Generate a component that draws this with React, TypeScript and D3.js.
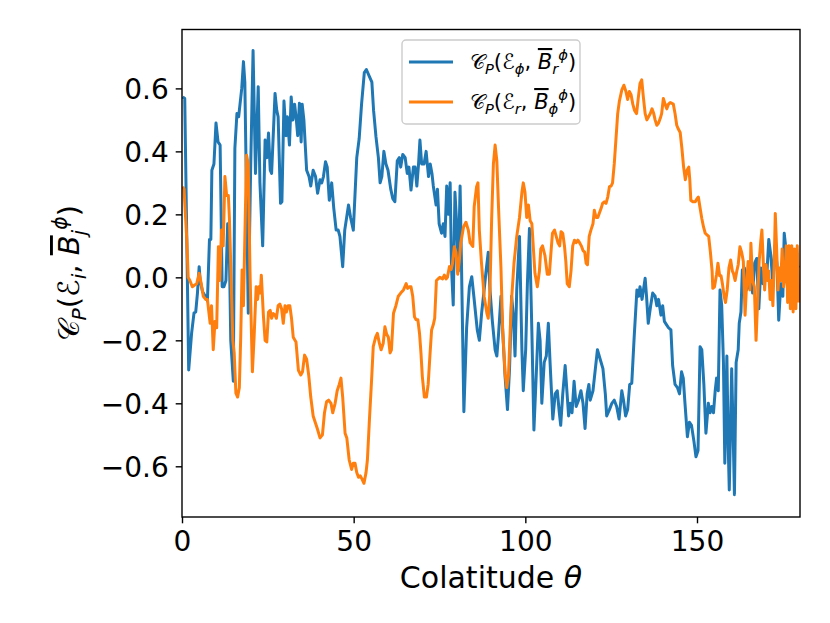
import * as d3 from "d3";
import { useLayoutEffect, useRef } from "react";

const W = 830;
const H = 623;
const box = { left: 182, right: 800, top: 29.5, bottom: 517 };

const xDomain = [0, 180];
const yDomain = [-0.761, 0.787];
const xTicks = [0, 50, 100, 150];
const yTicks = [-0.6, -0.4, -0.2, 0, 0.2, 0.4, 0.6];

// [theta, C_P(E_phi, B_r)]
const blueSeries: [number, number][] = [
  [0.2,0.573],[0.8,0.568],[1.95,-0.294],[2.8,-0.177],[3.5,-0.113],[4.0,-0.11],[4.5,-0.05],[5.0,0.034],[5.3,-0.01],[6.0,-0.046],
  [6.8,-0.06],[7.4,-0.075],[8.0,0.12],[8.4,0.12],[8.7,0.34],[9.3,0.36],[9.9,0.49],[10.5,0.43],[11.1,0.42],[11.7,-0.03],
  [12.2,-0.03],[12.8,-0.01],[13.3,0.17],[13.8,0.077],[14.2,-0.2],[14.95,-0.33],[15.4,0.41],[16.0,0.52],[16.5,0.51],[16.9,0.55],
  [17.4,0.6],[17.9,0.685],[18.3,0.62],[19.3,-0.114],[20.0,0.35],[20.7,0.72],[21.4,0.33],[22.2,0.605],[22.7,0.3],[23.5,0.1],
  [24.2,0.436],[24.7,0.38],[25.2,0.458],[25.7,0.34],[26.1,0.33],[27.1,0.584],[27.6,0.53],[28.0,0.51],[28.7,0.235],[29.1,0.24],
  [29.7,0.56],[30.3,0.45],[30.7,0.51],[31.3,0.42],[31.8,0.573],[32.3,0.5],[32.8,0.55],[33.3,0.5],[33.7,0.45],[34.2,0.553],
  [34.7,0.43],[35.0,0.55],[35.5,0.5],[36.3,0.34],[37.0,0.32],[37.5,0.29],[38.2,0.34],[38.9,0.32],[39.5,0.267],[40.2,0.31],
  [40.7,0.3],[41.2,0.32],[41.8,0.367],[42.3,0.35],[42.9,0.245],[43.6,0.3],[44.2,0.22],[44.9,0.15],[45.5,0.15],[46.0,0.13],
  [46.8,0.034],[47.4,0.15],[48.5,0.23],[49.1,0.19],[49.9,0.15],[50.9,0.38],[51.6,0.44],[52.3,0.55],[53.1,0.65],[53.7,0.66],
  [54.5,0.64],[55.3,0.62],[55.8,0.53],[56.5,0.446],[57.2,0.38],[57.7,0.3],[58.2,0.32],[58.8,0.4],[59.4,0.36],[60.0,0.34],
  [60.8,0.28],[61.4,0.25],[62.0,0.24],[62.7,0.37],[63.3,0.38],[63.7,0.35],[64.3,0.39],[65.0,0.38],[65.6,0.33],[66.1,0.35],
  [66.7,0.277],[67.4,0.35],[67.9,0.35],[68.4,0.29],[68.9,0.36],[69.3,0.436],[69.8,0.36],[70.5,0.36],[71.1,0.4],[71.8,0.32],
  [72.3,0.36],[72.8,0.33],[73.2,0.29],[74.0,0.23],[74.4,0.28],[74.9,0.17],[75.6,0.14],[76.1,0.17],[76.6,0.13],[77.1,0.29],
  [77.6,0.2],[78.1,0.3],[78.5,0.03],[79.0,-0.088],[79.5,0.27],[80.0,0.17],[80.5,0.02],[81.0,0.29],[81.4,0.045],[82.1,-0.427],
  [82.9,-0.16],[83.7,-0.03],[84.4,0.002],[85.0,-0.06],[86.0,-0.167],[86.6,-0.2],[87.3,-0.11],[88.0,-0.04],[88.5,0.013],[89.2,0.08],
  [89.7,-0.04],[90.4,-0.14],[91.2,-0.23],[91.7,-0.25],[92.2,-0.18],[92.9,-0.06],[93.6,-0.21],[94.1,-0.315],[94.8,-0.42],[95.4,-0.29],
  [96.0,-0.06],[96.5,-0.12],[97.0,-0.25],[97.5,-0.04],[98.3,0.13],[99.0,-0.23],[99.4,-0.36],[100.1,-0.23],[100.6,-0.02],[101.2,0.155],
  [101.9,-0.17],[102.5,-0.485],[103.1,-0.33],[103.8,-0.146],[104.3,-0.2],[104.8,-0.4],[105.5,-0.27],[106.1,-0.25],[106.7,-0.146],[107.2,-0.27],
  [108.0,-0.45],[108.7,-0.37],[109.3,-0.36],[109.9,-0.43],[110.3,-0.47],[110.9,-0.37],[111.6,-0.28],[112.1,-0.36],[112.6,-0.44],[113.1,-0.4],
  [113.6,-0.43],[114.2,-0.33],[114.8,-0.41],[115.5,-0.39],[116.2,-0.36],[116.8,-0.4],[117.4,-0.48],[118.0,-0.37],[118.5,-0.34],[118.9,-0.39],
  [119.7,-0.36],[120.4,-0.29],[121.0,-0.23],[121.8,-0.26],[122.6,-0.29],[123.3,-0.37],[123.7,-0.44],[124.5,-0.42],[125.2,-0.4],[125.9,-0.39],
  [126.6,-0.41],[127.3,-0.45],[128.1,-0.36],[128.6,-0.39],[129.2,-0.44],[129.8,-0.42],[130.4,-0.34],[131.0,-0.336],[131.7,-0.19],[132.5,-0.04],
  [133.0,-0.06],[133.4,-0.03],[134.0,-0.07],[134.9,-0.003],[135.3,-0.06],[135.8,-0.146],[136.5,-0.09],[137.1,-0.05],[137.8,-0.06],[138.3,-0.09],
  [138.8,-0.07],[139.5,-0.12],[140.0,-0.09],[140.5,-0.14],[141.1,-0.15],[141.7,-0.16],[142.4,-0.167],[142.9,-0.28],[143.6,-0.34],[144.3,-0.35],
  [144.9,-0.37],[145.5,-0.3],[146.0,-0.32],[146.5,-0.4],[147.2,-0.506],[147.8,-0.46],[148.4,-0.47],[149.1,-0.52],[149.7,-0.57],[150.3,-0.55],
  [150.9,-0.22],[151.4,-0.23],[152.0,-0.34],[152.6,-0.495],[153.3,-0.4],[153.8,-0.43],[154.3,-0.41],[154.8,-0.43],[155.3,-0.36],[155.7,-0.32],
  [156.2,-0.36],[156.7,-0.04],[157.2,-0.09],[157.7,-0.27],[158.1,-0.59],[158.7,-0.25],[159.1,-0.54],[159.4,-0.675],[160.1,-0.29],[160.5,-0.48],
  [160.9,-0.69],[161.4,-0.27],[162.0,-0.23],[162.3,-0.146],[162.8,-0.11],[163.2,0.023],[163.8,0.03],[164.4,-0.04],[165.0,-0.03],[165.6,0.02],
  [166.2,-0.05],[166.8,0.045],[167.4,0.06],[168.0,-0.1],[168.6,0.03],[169.2,-0.02],[169.8,0.04],[170.4,0.02],[170.9,0.12],[171.5,0.07],
  [172.1,-0.02],[172.7,0.1],[173.3,0.04],[173.8,-0.136],[174.4,-0.02],[175.0,-0.06],[175.4,0.14],[176.0,0.08],[176.6,0.04],[177.2,0.0],
  [177.8,0.05],[178.4,0.01],[179.0,0.04],[179.7,0.03],
];

// [theta, C_P(E_r, B_phi)]
const orangeSeries: [number, number][] = [
  [0.2,0.288],[0.6,0.28],[1.0,0.198],[1.4,0.12],[1.8,0.0],[2.3,-0.01],[3.0,-0.03],[3.6,-0.025],[4.3,-0.02],[5.0,0.013],
  [5.6,-0.02],[6.2,-0.06],[6.9,-0.07],[7.4,-0.07],[8.2,-0.146],[8.6,-0.09],[9.1,-0.23],[9.6,-0.14],[10.1,-0.16],[10.6,0.097],
  [11.0,-0.01],[11.5,0.15],[12.0,0.1],[12.5,0.32],[13.0,0.26],[13.5,0.26],[13.8,0.19],[14.2,0.04],[14.8,-0.2],[15.2,-0.24],
  [15.7,-0.368],[16.2,-0.38],[16.7,-0.35],[17.1,-0.19],[17.5,0.023],[17.9,-0.09],[18.35,0.15],[18.8,0.388],[19.3,0.36],[19.8,0.02],
  [20.5,-0.3],[21.0,-0.19],[21.6,-0.03],[22.0,-0.07],[22.4,-0.03],[22.8,-0.05],[23.1,0.007],[23.7,-0.12],[24.2,-0.2],[24.7,-0.205],
  [25.2,-0.11],[25.7,-0.105],[26.1,-0.13],[26.6,-0.115],[27.1,-0.12],[27.5,-0.13],[28.0,-0.09],[28.5,-0.085],[29.0,-0.1],[29.5,-0.146],
  [30.0,-0.09],[30.4,-0.11],[30.9,-0.09],[31.4,-0.09],[31.9,-0.13],[32.4,-0.19],[33.2,-0.205],[33.9,-0.295],[34.6,-0.31],[35.1,-0.3],
  [35.7,-0.247],[36.3,-0.26],[36.9,-0.31],[37.5,-0.38],[38.2,-0.44],[38.8,-0.46],[39.4,-0.48],[40.2,-0.51],[40.9,-0.5],[41.5,-0.43],
  [42.1,-0.395],[42.7,-0.39],[43.4,-0.4],[43.9,-0.43],[44.6,-0.4],[45.2,-0.36],[45.8,-0.34],[46.3,-0.32],[46.8,-0.38],[47.5,-0.495],
  [48.0,-0.51],[48.7,-0.58],[49.4,-0.61],[49.9,-0.59],[50.4,-0.59],[50.9,-0.62],[51.4,-0.635],[51.9,-0.63],[52.4,-0.64],[53.0,-0.654],
  [53.6,-0.62],[54.0,-0.58],[54.6,-0.45],[55.2,-0.33],[55.7,-0.22],[56.4,-0.19],[56.9,-0.178],[57.5,-0.21],[58.0,-0.23],[58.6,-0.21],
  [59.1,-0.157],[59.6,-0.18],[60.1,-0.19],[60.6,-0.24],[61.0,-0.23],[61.6,-0.114],[62.3,-0.09],[63.0,-0.06],[63.7,-0.05],[64.5,-0.04],
  [65.3,-0.02],[65.7,-0.035],[66.2,-0.03],[66.7,-0.03],[67.2,-0.06],[67.7,-0.125],[68.2,-0.135],[68.7,-0.135],[69.2,-0.18],[69.6,-0.24],
  [70.0,-0.315],[70.6,-0.38],[71.2,-0.38],[71.7,-0.34],[72.2,-0.25],[72.7,-0.167],[73.2,-0.15],[73.6,-0.13],[74.1,-0.01],[74.6,-0.005],
  [75.1,0.0],[75.9,-0.005],[76.4,0.007],[76.9,-0.005],[77.3,0.0],[77.9,0.034],[78.4,0.025],[78.8,0.045],[79.3,0.097],[79.8,0.08],
  [80.3,0.01],[80.7,0.045],[81.2,0.11],[82.0,0.16],[82.7,0.175],[83.4,0.15],[83.9,0.11],[84.7,0.098],[85.1,0.224],[85.8,0.288],
  [86.2,0.3],[86.6,0.15],[87.2,0.05],[88.0,-0.06],[88.8,-0.114],[89.2,-0.13],[89.7,-0.04],[90.2,0.19],[90.7,0.36],[91.2,0.42],
  [91.7,0.37],[92.2,0.22],[92.9,0.03],[93.4,-0.167],[94.1,-0.305],[94.6,-0.35],[95.1,-0.31],[95.6,-0.167],[96.0,-0.07],[96.7,0.045],
  [97.5,0.13],[98.3,0.19],[99.0,0.27],[99.4,0.3],[99.9,0.27],[100.4,0.19],[100.9,0.23],[101.4,0.18],[101.9,0.17],[102.3,0.1],
  [102.8,0.013],[103.5,-0.03],[104.1,0.02],[104.5,0.09],[105.0,0.1],[105.7,0.07],[106.4,0.01],[107.0,0.01],[107.4,0.07],[107.9,0.14],
  [108.5,0.15],[109.0,0.13],[109.5,0.11],[110.0,0.1],[110.4,0.145],[110.9,0.14],[111.4,0.1],[111.8,0.05],[112.2,-0.02],[112.8,-0.03],
  [113.3,0.02],[113.8,0.1],[114.3,0.118],[114.8,0.11],[115.3,0.118],[115.8,0.11],[116.3,0.1],[116.8,0.085],[117.3,0.08],[117.7,0.045],
  [118.1,0.04],[118.6,0.13],[119.1,0.15],[119.7,0.17],[120.1,0.213],[120.6,0.19],[121.1,0.19],[121.6,0.205],[122.1,0.22],[122.5,0.235],
  [123.0,0.24],[123.5,0.235],[124.0,0.255],[124.5,0.288],[125.0,0.29],[125.4,0.3],[125.9,0.36],[126.4,0.44],[126.9,0.52],[127.4,0.56],
  [128.1,0.595],[128.7,0.61],[129.3,0.59],[129.8,0.565],[130.3,0.59],[130.8,0.58],[131.3,0.55],[131.8,0.53],[132.4,0.52],[132.9,0.57],
  [133.4,0.616],[133.9,0.627],[134.4,0.57],[134.9,0.52],[135.4,0.5],[135.9,0.51],[136.4,0.52],[136.9,0.535],[137.4,0.52],[137.8,0.5],
  [138.3,0.483],[138.8,0.49],[139.3,0.505],[139.7,0.52],[140.2,0.568],[140.7,0.55],[141.2,0.535],[141.7,0.55],[142.2,0.555],[142.6,0.553],
  [143.1,0.55],[143.6,0.52],[144.1,0.483],[144.6,0.47],[145.1,0.46],[145.6,0.41],[146.1,0.35],[146.6,0.31],[147.1,0.34],[147.6,0.35],
  [147.9,0.31],[148.2,0.245],[148.8,0.24],[149.5,0.24],[150.0,0.25],[150.4,0.255],[150.9,0.22],[151.4,0.187],[151.9,0.16],[152.4,0.14],
  [152.9,0.135],[153.4,0.13],[153.9,0.08],[154.4,0.02],[154.6,-0.035],[155.1,-0.03],[155.7,0.01],[156.1,0.045],[156.6,0.005],[157.0,0.005],
  [157.4,-0.02],[157.9,-0.06],[158.3,-0.08],[158.8,-0.04],[159.3,0.03],[159.8,0.055],[160.3,0.02],[160.6,0.013],[161.1,-0.01],[161.6,0.02],
  [162.0,0.04],[162.5,0.097],[163.0,0.08],[163.5,0.05],[164.0,-0.12],[164.5,-0.01],[164.9,0.05],[165.4,-0.04],[165.7,0.108],[166.2,-0.01],
  [166.7,-0.03],[167.2,-0.2],[167.6,-0.09],[168.1,0.05],[168.6,0.118],[168.9,0.15],[169.3,0.05],[169.7,-0.04],[170.1,0.04],[170.5,-0.01],
  [170.9,0.02],[171.3,-0.07],[171.7,-0.01],[172.1,-0.09],[172.5,0.05],[172.8,0.203],[173.2,0.09],[173.6,-0.04],[174.0,0.03],[174.4,-0.01],
  [174.8,0.09],[175.2,-0.03],[175.6,0.0],[176.0,0.1],[176.4,-0.08],[176.8,0.1],[177.2,-0.1],[177.6,0.1],[178.0,-0.11],[178.4,0.09],
  [178.8,-0.1],[179.2,0.1],[179.7,-0.08],
];

type Part = { t: string; it?: boolean; pos?: "sub" | "sup"; over?: boolean };

const yLabelParts: Part[] = [
  { t: "𝒞" }, { t: "P", it: true, pos: "sub" }, { t: "(" }, { t: "ℰ" }, { t: "i", it: true, pos: "sub" },
  { t: ", " }, { t: "B", it: true, over: true }, { t: "j", it: true, pos: "sub" }, { t: "ϕ", it: true, pos: "sup" }, { t: ")" },
];

const legendLabels: Part[][] = [
  [
    { t: "𝒞" }, { t: "P", it: true, pos: "sub" }, { t: "(" }, { t: "ℰ" }, { t: "ϕ", it: true, pos: "sub" },
    { t: ", " }, { t: "B", it: true, over: true }, { t: "r", it: true, pos: "sub" }, { t: "ϕ", it: true, pos: "sup" }, { t: ")" },
  ],
  [
    { t: "𝒞" }, { t: "P", it: true, pos: "sub" }, { t: "(" }, { t: "ℰ" }, { t: "r", it: true, pos: "sub" },
    { t: ", " }, { t: "B", it: true, over: true }, { t: "ϕ", it: true, pos: "sub" }, { t: "ϕ", it: true, pos: "sup" }, { t: ")" },
  ],
];
const seriesColors = ["#1f77b4", "#ff7f0e"];

const FONT = "DejaVu Sans, sans-serif";

// write mathtext-like parts as tspans
const mathText = (text: any, parts: Part[], size: number) => {
  let shift = 0;
  parts.forEach((p) => {
    const target = p.pos === "sub" ? 0.24 * size : p.pos === "sup" ? -0.42 * size : 0;
    text
      .append("tspan")
      .attr("dy", target - shift)
      .attr("font-size", p.pos ? size * 0.7 : size)
      .attr("font-style", p.it ? "italic" : "normal")
      .attr("text-decoration", p.over ? "overline" : null)
      .text(p.t);
    shift = target;
  });
};

const Chart = () => {
  const ref = useRef<SVGSVGElement>(null);

  useLayoutEffect(() => {
    const svg = d3.select(ref.current);
    svg.selectAll("*").remove();

    const x = d3.scaleLinear().domain(xDomain).range([box.left, box.right]);
    const y = d3.scaleLinear().domain(yDomain).range([box.bottom, box.top]);

    svg.append("rect").attr("width", W).attr("height", H).attr("fill", "white");

    svg
      .append("clipPath")
      .attr("id", "plot-clip")
      .append("rect")
      .attr("x", box.left)
      .attr("y", box.top)
      .attr("width", box.right - box.left)
      .attr("height", box.bottom - box.top);

    const line = d3
      .line<[number, number]>()
      .x((d) => x(d[0]))
      .y((d) => y(d[1]));

    const plot = svg.append("g").attr("clip-path", "url(#plot-clip)");
    [blueSeries, orangeSeries].forEach((s, i) => {
      plot
        .append("path")
        .attr("d", line(s))
        .attr("fill", "none")
        .attr("stroke", seriesColors[i])
        .attr("stroke-width", 3)
        .attr("stroke-linejoin", "round");
    });

    // axes
    const xAxis = d3.axisBottom(x).tickValues(xTicks).tickSize(6.3).tickPadding(8).tickFormat(d3.format("d"));
    const yAxis = d3.axisLeft(y).tickValues(yTicks).tickSize(6.3).tickPadding(7).tickFormat(d3.format(".1f"));

    const gx = svg.append("g").attr("transform", `translate(0,${box.bottom})`).call(xAxis);
    const gy = svg.append("g").attr("transform", `translate(${box.left},0)`).call(yAxis);
    [gx, gy].forEach((g) => {
      g.select(".domain").remove();
      g.selectAll("line").attr("stroke", "black").attr("stroke-width", 1.4);
      g.selectAll("text").attr("font-family", FONT).attr("font-size", 28).attr("fill", "black");
    });
    gx.selectAll("text").attr("dy", "0.72em");
    gy.selectAll("text").attr("dy", "0.36em");

    svg
      .append("rect")
      .attr("x", box.left)
      .attr("y", box.top)
      .attr("width", box.right - box.left)
      .attr("height", box.bottom - box.top)
      .attr("fill", "none")
      .attr("stroke", "black")
      .attr("stroke-width", 1.4);

    // axis labels
    const xl = svg
      .append("text")
      .attr("x", (box.left + box.right) / 2)
      .attr("y", 588)
      .attr("text-anchor", "middle")
      .attr("font-family", FONT)
      .attr("font-size", 30);
    xl.append("tspan").text("Colatitude ");
    xl.append("tspan").attr("font-style", "italic").text("θ");

    const yl = svg
      .append("text")
      .attr("transform", `translate(79,${(box.top + box.bottom) / 2}) rotate(-90)`)
      .attr("text-anchor", "middle")
      .attr("font-family", FONT);
    mathText(yl, yLabelParts, 29);

    // legend
    const lg = svg.append("g");
    lg.append("rect")
      .attr("x", 402)
      .attr("y", 40)
      .attr("width", 178)
      .attr("height", 84)
      .attr("rx", 4)
      .attr("fill", "white")
      .attr("fill-opacity", 0.8)
      .attr("stroke", "#cccccc")
      .attr("stroke-width", 1.4);
    legendLabels.forEach((parts, i) => {
      const cy = 62 + i * 40;
      lg.append("line")
        .attr("x1", 409)
        .attr("x2", 453)
        .attr("y1", cy)
        .attr("y2", cy)
        .attr("stroke", seriesColors[i])
        .attr("stroke-width", 3);
      const t = lg
        .append("text")
        .attr("x", 470)
        .attr("y", cy + 7)
        .attr("font-family", FONT);
      mathText(t, parts, 21);
    });
  }, []);

  return <svg ref={ref} width={W} height={H} style={{ position: "absolute", left: 0, top: 0 }} />;
};

export default function App() {
  return <Chart />;
}
